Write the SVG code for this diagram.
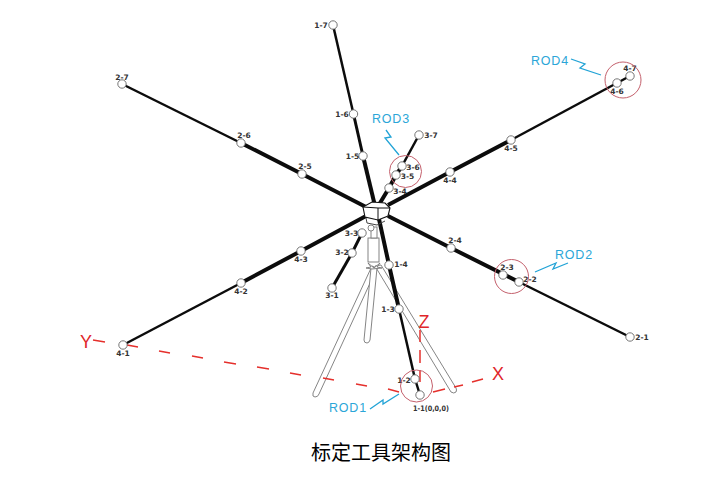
<svg xmlns="http://www.w3.org/2000/svg" width="725" height="486" viewBox="0 0 725 486">
<style>
.rod{stroke:#0c0c0c;fill:none;stroke-linecap:butt}
.t1{stroke-width:4}.t2{stroke-width:3}.t3{stroke-width:2.500}
.pt{fill:#fff;stroke:#666;stroke-width:.9}
.lb{font:bold 7.500px "DejaVu Sans",sans-serif;fill:#333;text-anchor:middle}
.red{stroke:#e5302c;stroke-width:1.500;fill:none}
.ring{fill:none;stroke:#c4606c;stroke-width:1}
.sq{fill:none;stroke:#22a3d6;stroke-width:1.300}
.rodt{font:12.500px "Liberation Sans",sans-serif;fill:#2ba6d8;letter-spacing:.8px}
.ax{font:18px "Liberation Sans",sans-serif;fill:#e0262a;text-anchor:middle}
.leg{fill:#fff;stroke:#777;stroke-width:.9}
</style>
<rect width="725" height="486" fill="#fff"/>
<g id="tripod">
<path class="leg" d="M372 266L313 393Q312 397 315 397Q318 397 319 394L377 268Z"/>
<path class="leg" d="M375 266L451 392Q454 394 456 392Q457 390 456 388L381 265Z"/>
<path class="leg" d="M371 268L364 340Q364 343 367 343Q369 343 370 340L377 268Z"/>
<path class="leg" d="M368 263L374 268L380 263L377 267L382 268L372 269L366 268L371 267Z"/>
<rect class="leg" x="368" y="238" width="11" height="24"/>
<rect class="leg" x="371" y="227" width="6" height="11"/>
<circle class="leg" cx="371" cy="228" r="3"/>
</g>
<g id="axes">
<path class="red" d="M93 340L105 342M127 345L138 347M159 351L170 353M192 356L203 358M224 362L236 364M257 367L269 369M290 373L301 375M323 378L334 380M356 384L367 386M388 389L399 392"/>
<path class="red" d="M433 392L445 389M454 387L463 385M472 382L483 379"/>
<path class="red" d="M420 330V342M420 350V363M420 370V382"/>
<text class="ax" x="86" y="348">Y</text>
<text class="ax" x="498" y="380">X</text>
<text class="ax" x="424" y="328">Z</text>
</g>
<g id="connectors">
<path class="rod t3" d="M333 25L353.500 114"/>
<path class="rod t2" d="M353.500 114L363 156"/>
<path class="rod t1" d="M363 156L375 206"/>
<path class="rod t1" d="M379 219L389 265L399 309"/>
<path class="rod t3" d="M399 309L415 379"/>
<path class="rod t3" d="M415 379L420 395"/>
<path class="rod t3" d="M122 84L241 143"/>
<path class="rod t1" d="M241 143L302 174L366 207"/>
<path class="rod t1" d="M388 216L451 248L519 282"/>
<path class="rod t3" d="M519 282L630 337"/>
<path class="rod t3" d="M419 135L402 166"/>
<path class="rod t1" d="M402 166L396 175"/>
<path class="rod t1" d="M396 175L389 188L380 203"/>
<path class="rod t2" d="M362 233L352 253"/>
<path class="rod t2" d="M352 253L332 288"/>
<path class="rod t3" d="M630 76L617 83"/>
<path class="rod t3" d="M617 83L511 140"/>
<path class="rod t1" d="M511 140L450 172L388 205"/>
<path class="rod t1" d="M366 216L301 251L241 283"/>
<path class="rod t3" d="M241 283L123 345"/>
</g>
<g id="hub">
<path d="M363 207L372 202L385 203L390 208L388 216L378 220L365 217Z" fill="#fff" stroke="#111" stroke-width="1.100"/>
<path d="M363 207L378 208L390 208M378 208L378 220" fill="none" stroke="#111" stroke-width="1"/>
<path d="M366 218L367 223L377 225L385 221" fill="none" stroke="#444" stroke-width="1"/>
</g>
<g id="n1-7"><circle class="pt" cx="333" cy="25" r="4.200"/><text class="lb" x="321" y="28">1-7</text></g>
<g id="n1-6"><circle class="pt" cx="353.500" cy="114" r="4.200"/><text class="lb" x="342" y="117">1-6</text></g>
<g id="n1-5"><circle class="pt" cx="363" cy="156" r="4.200"/><text class="lb" x="352.500" y="159">1-5</text></g>
<g id="n1-4"><circle class="pt" cx="389" cy="265" r="4.200"/><text class="lb" x="401" y="267">1-4</text></g>
<g id="n1-3"><circle class="pt" cx="399" cy="309" r="4.200"/><text class="lb" x="388" y="312">1-3</text></g>
<g id="n1-2"><circle class="pt" cx="415" cy="379" r="4.200"/><text class="lb" x="404" y="383">1-2</text></g>
<g id="n1-1"><circle class="pt" cx="420" cy="395" r="4.200"/><text class="lb" x="431" y="411" textLength="36" lengthAdjust="spacingAndGlyphs">1-1(0,0,0)</text></g>
<g id="n2-7"><circle class="pt" cx="122" cy="84" r="4.200"/><text class="lb" x="122" y="80">2-7</text></g>
<g id="n2-6"><circle class="pt" cx="241" cy="143" r="4.200"/><text class="lb" x="244" y="138">2-6</text></g>
<g id="n2-5"><circle class="pt" cx="302" cy="174" r="4.200"/><text class="lb" x="305" y="169">2-5</text></g>
<g id="n2-4"><circle class="pt" cx="451" cy="248" r="4.200"/><text class="lb" x="455" y="243">2-4</text></g>
<g id="n2-3"><circle class="pt" cx="503" cy="275" r="4.200"/><text class="lb" x="507" y="270">2-3</text></g>
<g id="n2-2"><circle class="pt" cx="519" cy="282" r="4.200"/><text class="lb" x="530" y="282">2-2</text></g>
<g id="n2-1"><circle class="pt" cx="630" cy="337" r="4.200"/><text class="lb" x="642" y="340">2-1</text></g>
<g id="n3-7"><circle class="pt" cx="419" cy="135" r="4.200"/><text class="lb" x="431" y="138">3-7</text></g>
<g id="n3-6"><circle class="pt" cx="402" cy="166" r="4.200"/><text class="lb" x="413" y="170">3-6</text></g>
<g id="n3-5"><circle class="pt" cx="396" cy="175" r="4.200"/><text class="lb" x="407.500" y="179">3-5</text></g>
<g id="n3-4"><circle class="pt" cx="389" cy="188" r="4.200"/><text class="lb" x="400" y="194">3-4</text></g>
<g id="n3-3"><circle class="pt" cx="362" cy="233" r="4.200"/><text class="lb" x="351.500" y="236">3-3</text></g>
<g id="n3-2"><circle class="pt" cx="352" cy="253" r="4.200"/><text class="lb" x="342" y="255">3-2</text></g>
<g id="n3-1"><circle class="pt" cx="332" cy="288" r="4.200"/><text class="lb" x="332" y="298">3-1</text></g>
<g id="n4-7"><circle class="pt" cx="630" cy="76" r="4.200"/><text class="lb" x="630" y="71">4-7</text></g>
<g id="n4-6"><circle class="pt" cx="617" cy="83" r="4.200"/><text class="lb" x="617" y="94">4-6</text></g>
<g id="n4-5"><circle class="pt" cx="511" cy="140" r="4.200"/><text class="lb" x="511" y="151">4-5</text></g>
<g id="n4-4"><circle class="pt" cx="450" cy="172" r="4.200"/><text class="lb" x="450" y="183">4-4</text></g>
<g id="n4-3"><circle class="pt" cx="301" cy="251" r="4.200"/><text class="lb" x="301" y="262">4-3</text></g>
<g id="n4-2"><circle class="pt" cx="241" cy="283" r="4.200"/><text class="lb" x="241" y="294">4-2</text></g>
<g id="n4-1"><circle class="pt" cx="123" cy="345" r="4.200"/><text class="lb" x="123" y="356">4-1</text></g>
<g id="rod1"><circle class="ring" cx="416.500" cy="386" r="16"/><path class="sq" d="M370 409L383 400L383 404L399 394"/><text class="rodt" x="329" y="412">ROD1</text></g>
<g id="rod2"><circle class="ring" cx="511.500" cy="276.500" r="17"/><path class="sq" d="M535 272L556 263L553 269L568 263"/><text class="rodt" x="555" y="259">ROD2</text></g>
<g id="rod3"><circle class="ring" cx="405.500" cy="171.500" r="16"/><path class="sq" d="M386 130L391 137L385 138L399 155"/><text class="rodt" x="372" y="123">ROD3</text></g>
<g id="rod4"><circle class="ring" cx="623" cy="80" r="18"/><path class="sq" d="M571 59L585 64L580 68L601 75"/><text class="rodt" x="531" y="65">ROD4</text></g>
<text x="381" y="460" font-family="'Noto Sans CJK SC',sans-serif" font-size="20" font-weight="400" fill="#000" text-anchor="middle">标定工具架构图</text>
</svg>
